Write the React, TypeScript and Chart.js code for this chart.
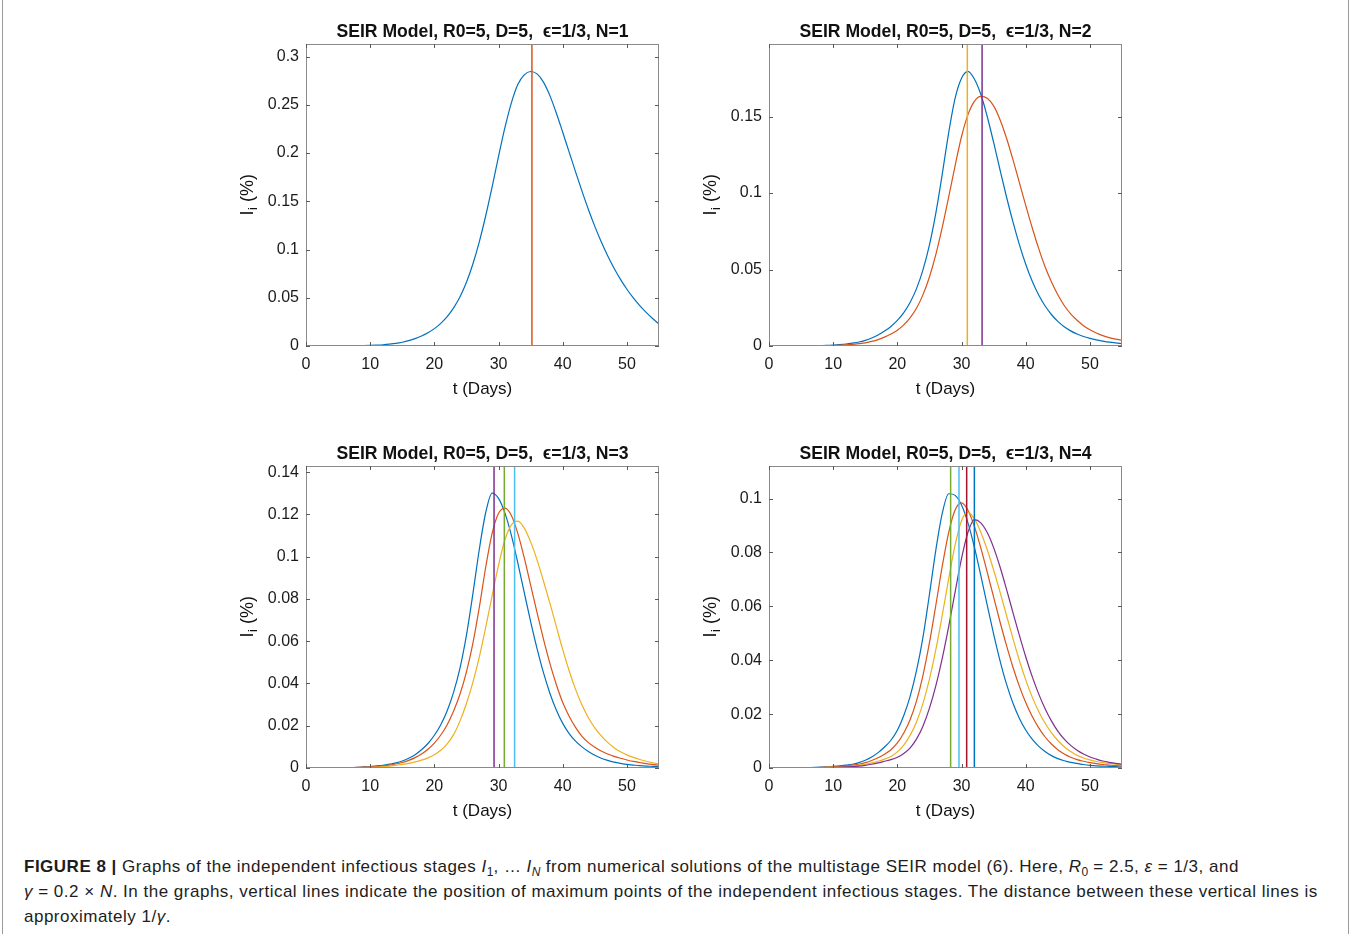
import React, { useEffect, useRef } from "react";
import { Chart, registerables } from "chart.js";

Chart.register(...registerables);

// ---------------- DATA ----------------
const days = [
  0, 1, 2, 3, 4, 5, 6, 7, 8, 9, 10, 11, 12, 13, 14, 15, 16, 17, 18, 19, 20, 21, 22, 23, 24, 25, 26, 27,
  28, 29, 30, 31, 32, 33, 34, 35, 36, 37, 38, 39, 40, 41, 42, 43, 44, 45, 46, 47, 48, 49, 50, 51, 52, 53,
  54, 55,
];
const xTickValues = [0, 10, 20, 30, 40, 50];

const titles = [
  "SEIR Model, R0=5, D=5,  \u03f5=1/3, N=1",
  "SEIR Model, R0=5, D=5,  \u03f5=1/3, N=2",
  "SEIR Model, R0=5, D=5,  \u03f5=1/3, N=3",
  "SEIR Model, R0=5, D=5,  \u03f5=1/3, N=4",
];
const xLabel = "t (Days)";
const yLabelMain = "I";
const yLabelSub = "i";
const yLabelRest = " (%)";

const yTicksN1 = [0, 0.05, 0.1, 0.15, 0.2, 0.25, 0.3];
const yTicksN2 = [0, 0.05, 0.1, 0.15];
const yTicksN3 = [0, 0.02, 0.04, 0.06, 0.08, 0.1, 0.12, 0.14];
const yTicksN4 = [0, 0.02, 0.04, 0.06, 0.08, 0.1];
const yMaxN1 = 0.313;
const yMaxN2 = 0.1975;
const yMaxN3 = 0.1429;
const yMaxN4 = 0.1121;

// N=1
const n1I1 = [
  0, 0, 0, 0, 0.0001, 0.0001, 0.0001, 0.0002, 0.0003, 0.0004, 0.0006, 0.0009, 0.0013, 0.0019, 0.0027,
  0.0039, 0.0055, 0.0076, 0.0103, 0.0137, 0.018, 0.0235, 0.0305, 0.0395, 0.051, 0.066, 0.085, 0.108,
  0.135, 0.165, 0.1965, 0.2265, 0.252, 0.271, 0.281, 0.2845, 0.282, 0.2735, 0.2595, 0.2415, 0.2215,
  0.201, 0.1805, 0.1605, 0.1415, 0.124, 0.108, 0.0935, 0.0805, 0.069, 0.0588, 0.0498, 0.0418, 0.0348,
  0.0285, 0.0228,
];
const n1PeakDays = [35.2];

// N=2
const n2I1 = [
  0, 0, 0, 0, 0.0001, 0.0001, 0.0001, 0.0002, 0.0003, 0.0004, 0.0006, 0.0009, 0.0013, 0.0019, 0.0026,
  0.0037, 0.0052, 0.0072, 0.0098, 0.0128, 0.0167, 0.0218, 0.0286, 0.0377, 0.0499, 0.0661, 0.0871, 0.1126,
  0.1396, 0.1621, 0.1751, 0.1796, 0.1746, 0.1646, 0.1501, 0.1331, 0.1151, 0.0976, 0.0813, 0.0665, 0.0535,
  0.0425, 0.0335, 0.0263, 0.0206, 0.0161, 0.0126, 0.0099, 0.0078, 0.0062, 0.005, 0.004, 0.0032, 0.0025,
  0.002, 0.0016,
];
const n2I2 = [
  0, 0, 0, 0, 0, 0, 0.0001, 0.0001, 0.0001, 0.0002, 0.0003, 0.0005, 0.0007, 0.001, 0.0015, 0.0021, 0.003,
  0.0042, 0.0058, 0.0078, 0.0103, 0.0138, 0.0185, 0.0248, 0.0336, 0.0451, 0.0599, 0.0777, 0.0975, 0.118,
  0.137, 0.1513, 0.16, 0.1632, 0.162, 0.157, 0.148, 0.136, 0.122, 0.107, 0.092, 0.0775, 0.064, 0.052,
  0.042, 0.0335, 0.0265, 0.021, 0.0168, 0.0133, 0.0106, 0.0085, 0.0068, 0.0055, 0.0045, 0.0037,
];
const n2PeakDays = [30.9, 33.2];

// N=3
const n3I1 = [
  0, 0, 0, 0, 0.0001, 0.0001, 0.0002, 0.0002, 0.0003, 0.0005, 0.0007, 0.001, 0.0013, 0.0018, 0.0024,
  0.0033, 0.0046, 0.0063, 0.0086, 0.0116, 0.0155, 0.0205, 0.0271, 0.0359, 0.0474, 0.0629, 0.0824, 0.1034,
  0.1209, 0.1301, 0.1276, 0.1206, 0.1101, 0.0971, 0.0831, 0.0693, 0.0565, 0.0451, 0.0354, 0.0274, 0.0211,
  0.0163, 0.0127, 0.01, 0.0078, 0.006, 0.0046, 0.0036, 0.0028, 0.0022, 0.0017, 0.0014, 0.0011, 0.0009,
  0.0008, 0.0007,
];
const n3I2 = [
  0, 0, 0, 0, 0, 0.0001, 0.0001, 0.0002, 0.0003, 0.0004, 0.0005, 0.0007, 0.001, 0.0014, 0.0019, 0.0026,
  0.0036, 0.0049, 0.0066, 0.0089, 0.0118, 0.0156, 0.0205, 0.027, 0.035, 0.0455, 0.059, 0.076, 0.095,
  0.111, 0.1205, 0.123, 0.1195, 0.111, 0.0995, 0.0865, 0.0735, 0.061, 0.0495, 0.0395, 0.031, 0.0245,
  0.0192, 0.015, 0.012, 0.0098, 0.008, 0.0066, 0.0055, 0.0046, 0.0038, 0.0031, 0.0026, 0.0021, 0.0017,
  0.0014,
];
const n3I3 = [
  0, 0, 0, 0, 0, 0, 0, 0.0001, 0.0001, 0.0002, 0.0003, 0.0004, 0.0006, 0.0009, 0.0013, 0.0017, 0.0022,
  0.0029, 0.0037, 0.0048, 0.0063, 0.0084, 0.0114, 0.0158, 0.0223, 0.0305, 0.0405, 0.0525, 0.0665, 0.0815,
  0.096, 0.108, 0.115, 0.1168, 0.1135, 0.107, 0.0985, 0.0885, 0.078, 0.067, 0.056, 0.046, 0.0372, 0.0298,
  0.0238, 0.019, 0.0152, 0.0121, 0.0096, 0.0077, 0.0062, 0.005, 0.004, 0.0032, 0.0025, 0.0019,
];
const n3PeakDays = [29.3, 30.9, 32.5];

// N=4
const n4I1 = [
  0, 0, 0, 0, 0.0001, 0.0001, 0.0001, 0.0002, 0.0003, 0.0004, 0.0006, 0.0008, 0.0011, 0.0014, 0.002,
  0.0029, 0.0041, 0.0057, 0.0078, 0.0103, 0.014, 0.0195, 0.0267, 0.0363, 0.0487, 0.0645, 0.081, 0.0946,
  0.1018, 0.1012, 0.0976, 0.091, 0.082, 0.0715, 0.0605, 0.0497, 0.0398, 0.0312, 0.0241, 0.0185, 0.0141,
  0.0107, 0.0081, 0.0061, 0.0046, 0.0035, 0.0027, 0.0021, 0.0017, 0.0013, 0.001, 0.0008, 0.0007, 0.0006,
  0.0005, 0.0004,
];
const n4I2 = [
  0, 0, 0, 0, 0, 0.0001, 0.0001, 0.0001, 0.0002, 0.0003, 0.0004, 0.0006, 0.0008, 0.0011, 0.0014, 0.002,
  0.0028, 0.0038, 0.0051, 0.0068, 0.0093, 0.013, 0.018, 0.025, 0.0345, 0.0465, 0.0605, 0.075, 0.0875,
  0.0958, 0.0984, 0.0957, 0.0897, 0.0817, 0.0727, 0.0634, 0.0542, 0.0455, 0.0375, 0.0304, 0.0243, 0.0192,
  0.015, 0.0116, 0.0089, 0.0068, 0.0052, 0.004, 0.0031, 0.0025, 0.002, 0.0016, 0.0013, 0.0011, 0.0009,
  0.0008,
];
const n4I3 = [
  0, 0, 0, 0, 0, 0, 0.0001, 0.0001, 0.0001, 0.0002, 0.0003, 0.0004, 0.0005, 0.0007, 0.001, 0.0014, 0.0019,
  0.0025, 0.0033, 0.0043, 0.006, 0.0085, 0.0122, 0.0172, 0.0241, 0.033, 0.044, 0.0568, 0.0703, 0.0828,
  0.0918, 0.095, 0.0925, 0.0875, 0.081, 0.0735, 0.0653, 0.0567, 0.0481, 0.04, 0.0327, 0.0264, 0.0211,
  0.0167, 0.0131, 0.0102, 0.0079, 0.0061, 0.0047, 0.0037, 0.003, 0.0024, 0.002, 0.0017, 0.0014, 0.0012,
];
const n4I4 = [
  0, 0, 0, 0, 0, 0, 0, 0.0001, 0.0001, 0.0001, 0.0002, 0.0003, 0.0004, 0.0005, 0.0007, 0.001, 0.0014,
  0.0019, 0.0025, 0.0031, 0.004, 0.0054, 0.0075, 0.0108, 0.0156, 0.0222, 0.0306, 0.0408, 0.0526, 0.0654,
  0.0778, 0.0875, 0.0922, 0.091, 0.0874, 0.0818, 0.0746, 0.0664, 0.0578, 0.0493, 0.0413, 0.034, 0.0276,
  0.0221, 0.0175, 0.0137, 0.0107, 0.0084, 0.0066, 0.0052, 0.0041, 0.0033, 0.0026, 0.0021, 0.0017, 0.0014,
];
const n4PeakDays = [28.3, 29.6, 30.8, 32.0];

// ---------------- STYLE ----------------
const matlabColors = ["#0072BD", "#D95319", "#EDB120", "#7E2F8E", "#77AC30", "#4DBEEE", "#A2142F"];
const FONT = '"Liberation Sans", Arial, Helvetica, sans-serif';

const PLOT_W = 353;
const PLOT_H = 302;
const CANVAS_W = 460;
const CANVAS_H = 410;
const AREA_LEFT = 80;
const AREA_TOP = 38;
const X_AXIS_H = 50;

const panels = [
  { title: titles[0], curves: [n1I1], peaks: n1PeakDays, yTicks: yTicksN1, yMax: yMaxN1, plotLeft: 306, plotTop: 44 },
  { title: titles[1], curves: [n2I1, n2I2], peaks: n2PeakDays, yTicks: yTicksN2, yMax: yMaxN2, plotLeft: 769, plotTop: 44 },
  { title: titles[2], curves: [n3I1, n3I2, n3I3], peaks: n3PeakDays, yTicks: yTicksN3, yMax: yMaxN3, plotLeft: 306, plotTop: 466 },
  { title: titles[3], curves: [n4I1, n4I2, n4I3, n4I4], peaks: n4PeakDays, yTicks: yTicksN4, yMax: yMaxN4, plotLeft: 769, plotTop: 466 },
];

const fmt = (v: number) => String(Number(v.toFixed(4)));

const framePlugin = {
  id: "matlabFrame",
  afterDatasetsDraw(chart: any, _args: any, opts: any) {
    const { ctx, chartArea: a, scales } = chart;
    const xs = scales.x;
    const ys = scales.y;
    ctx.save();
    // box
    ctx.strokeStyle = "#8a8a8a";
    ctx.lineWidth = 1;
    ctx.strokeRect(a.left + 0.5, a.top + 0.5, a.right - a.left - 1, a.bottom - a.top - 1);
    // inward ticks on all four sides
    ctx.strokeStyle = "#5a5a5a";
    ctx.beginPath();
    const tl = 4;
    for (const v of xTickValues) {
      const px = Math.round(xs.getPixelForValue(v)) + 0.5;
      ctx.moveTo(px, a.bottom);
      ctx.lineTo(px, a.bottom - tl);
      ctx.moveTo(px, a.top);
      ctx.lineTo(px, a.top + tl);
    }
    for (const v of opts.yTicks) {
      const py = Math.round(ys.getPixelForValue(v)) + 0.5;
      ctx.moveTo(a.left, py);
      ctx.lineTo(a.left + tl, py);
      ctx.moveTo(a.right, py);
      ctx.lineTo(a.right - tl, py);
    }
    ctx.stroke();

    ctx.fillStyle = "#111";
    // title
    ctx.font = `bold 17.6px ${FONT}`;
    ctx.textAlign = "center";
    ctx.textBaseline = "alphabetic";
    ctx.fillText(opts.title, (a.left + a.right) / 2, a.top - 7.5);
    // x label
    ctx.font = `17px ${FONT}`;
    ctx.fillText(xLabel, (a.left + a.right) / 2, a.bottom + 48);
    // y label with subscript
    ctx.translate(a.left - 53, (a.top + a.bottom) / 2);
    ctx.rotate(-Math.PI / 2);
    ctx.textAlign = "left";
    ctx.font = `18px ${FONT}`;
    const w1 = ctx.measureText(yLabelMain).width;
    const w3 = ctx.measureText(yLabelRest).width;
    ctx.font = `13px ${FONT}`;
    const w2 = ctx.measureText(yLabelSub).width;
    const start = -(w1 + w2 + w3) / 2;
    ctx.font = `18px ${FONT}`;
    ctx.fillText(yLabelMain, start, 0);
    ctx.font = `13px ${FONT}`;
    ctx.fillText(yLabelSub, start + w1 + 0.5, 4);
    ctx.font = `18px ${FONT}`;
    ctx.fillText(yLabelRest, start + w1 + w2 + 0.5, 0);
    ctx.restore();
  },
};

function Panel({ cfg }: { cfg: (typeof panels)[number] }) {
  const ref = useRef<HTMLCanvasElement | null>(null);
  useEffect(() => {
    if (!ref.current) return;
    const curveSets = cfg.curves.map((vals, i) => ({
      type: "line" as const,
      data: days.map((d, k) => ({ x: d, y: vals[k] })),
      borderColor: matlabColors[i % 7],
      borderWidth: 1.2,
      pointRadius: 0,
      fill: false,
      cubicInterpolationMode: "monotone" as const,
      order: 50 - i,
    }));
    const peakSets = cfg.peaks.map((t, j) => ({
      type: "line" as const,
      data: [
        { x: t, y: 0 },
        { x: t, y: cfg.yMax },
      ],
      borderColor: matlabColors[(cfg.curves.length + j) % 7],
      borderWidth: 1.5,
      pointRadius: 0,
      fill: false,
      order: 10 - j,
    }));
    const chart = new Chart(ref.current, {
      type: "line",
      data: { datasets: [...curveSets, ...peakSets] as any },
      options: {
        animation: false,
        responsive: false,
        devicePixelRatio: 1,
        events: [],
        layout: {
          padding: {
            left: AREA_LEFT - 72,
            top: AREA_TOP,
            right: CANVAS_W - AREA_LEFT - PLOT_W,
            bottom: CANVAS_H - AREA_TOP - PLOT_H - X_AXIS_H,
          },
        },
        plugins: {
          legend: { display: false },
          title: { display: false },
          tooltip: { enabled: false },
          matlabFrame: { title: cfg.title, yTicks: cfg.yTicks },
        } as any,
        scales: {
          x: {
            type: "linear",
            min: 0,
            max: 55,
            grid: { display: false, drawTicks: false },
            border: { display: false },
            afterBuildTicks: (s: any) => {
              s.ticks = xTickValues.map((v) => ({ value: v }));
            },
            afterFit: (s: any) => {
              s.height = X_AXIS_H;
            },
            ticks: {
              padding: 9,
              maxRotation: 0,
              autoSkip: false,
              color: "#1a1a1a",
              font: { family: FONT, size: 16 },
              callback: (v: any) => fmt(Number(v)),
            },
          },
          y: {
            type: "linear",
            min: 0,
            max: cfg.yMax,
            grid: { display: false, drawTicks: false },
            border: { display: false },
            afterBuildTicks: (s: any) => {
              s.ticks = cfg.yTicks.map((v) => ({ value: v }));
            },
            afterFit: (s: any) => {
              s.width = 72;
            },
            ticks: {
              padding: 7,
              autoSkip: false,
              color: "#1a1a1a",
              font: { family: FONT, size: 16 },
              callback: (v: any) => fmt(Number(v)),
            },
          },
        },
      },
      plugins: [framePlugin],
    });
    return () => chart.destroy();
  }, [cfg]);
  return (
    <canvas
      ref={ref}
      width={CANVAS_W}
      height={CANVAS_H}
      style={{
        position: "absolute",
        left: cfg.plotLeft - AREA_LEFT,
        top: cfg.plotTop - AREA_TOP,
        width: CANVAS_W,
        height: CANVAS_H,
      }}
    />
  );
}

const captionStyle: React.CSSProperties = {
  position: "absolute",
  left: 24,
  whiteSpace: "nowrap",
  fontFamily: FONT,
  fontSize: 17,
  letterSpacing: "0.5px",
  lineHeight: "25px",
  color: "#1d1d1d",
};
const subStyle: React.CSSProperties = { fontSize: 12, letterSpacing: 0 };

export default function App() {
  return (
    <div
      style={{
        position: "absolute",
        left: 0,
        top: 0,
        width: 1356,
        height: 934,
        overflow: "hidden",
        background: "#fff",
      }}
    >
      <div
        style={{
          position: "absolute",
          left: 2,
          top: -10,
          width: 1347,
          height: 960,
          border: "1px solid #9a9a9a",
          boxSizing: "border-box",
        }}
      />
      {panels.map((p, i) => (
        <Panel key={i} cfg={p} />
      ))}
      <div style={{ ...captionStyle, top: 853.5 }}>
        <b>FIGURE 8 |</b> Graphs of the independent infectious stages <i>I</i>
        <sub style={subStyle}>1</sub>, … <i>I</i>
        <sub style={subStyle}>
          <i>N</i>
        </sub>{" "}
        from numerical solutions of the multistage SEIR model (6). Here, <i>R</i>
        <sub style={subStyle}>0</sub> = 2.5, <i>ε</i> = 1/3, and
      </div>
      <div style={{ ...captionStyle, top: 878.5 }}>
        <i>γ</i> = 0.2 × <i>N</i>. In the graphs, vertical lines indicate the position of maximum points of the
        independent infectious stages. The distance between these vertical lines is
      </div>
      <div style={{ ...captionStyle, top: 903.5 }}>
        approximately 1/<i>γ</i>.
      </div>
    </div>
  );
}
